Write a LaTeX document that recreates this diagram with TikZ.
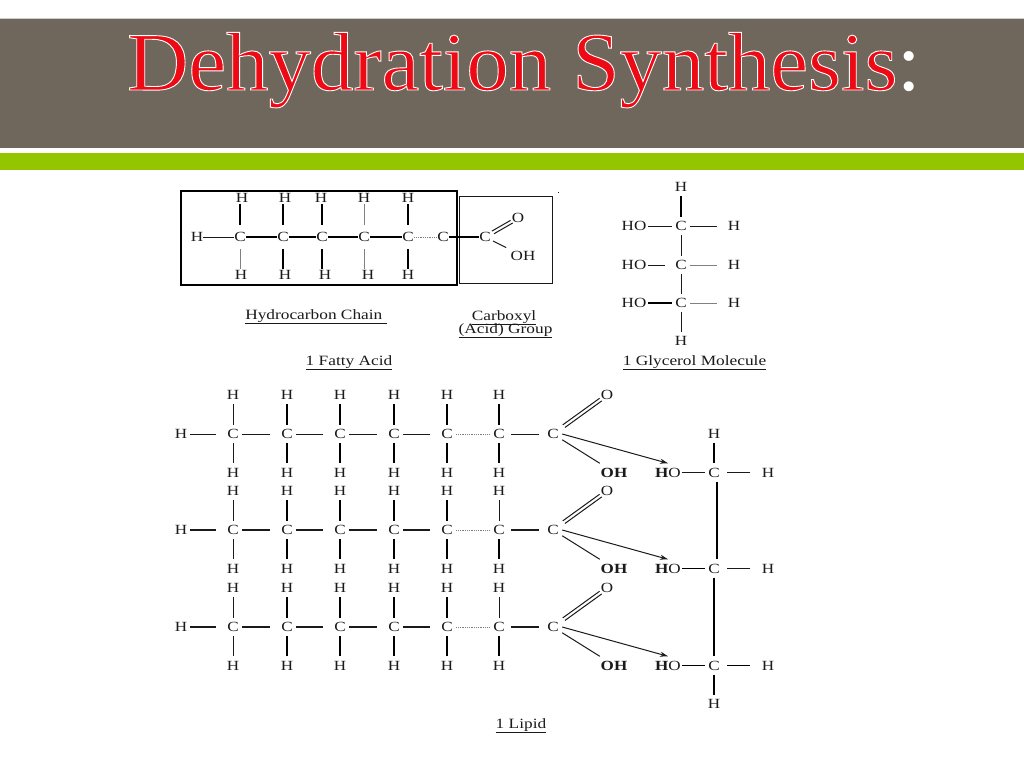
\documentclass[tikz,border=0pt]{standalone}
\usepackage{fontspec}
\setmainfont[FakeStretch=1.22]{Liberation Serif}
\newfontfamily\titlefont[FakeStretch=1.022]{Liberation Serif}
\usetikzlibrary{arrows.meta}
\definecolor{band}{HTML}{6F675C}
\definecolor{barg}{HTML}{94C600}
\definecolor{ink}{HTML}{1A1A1A}
\definecolor{titlered}{HTML}{EE0A14}
\newcommand{\outlined}[1]{\special{pdf:code q 2 Tr 1 1 1 RG 0.9 w}#1\special{pdf:code Q}}
\tikzset{
  x=1pt,y=-1pt,
  atom/.style={text=ink,font=\fontsize{14}{14}\selectfont,inner sep=0pt,minimum width=18pt,minimum height=18pt},
  wideatom/.style={atom,minimum width=28pt},
  boldatom/.style={wideatom,font=\fontsize{14}{14}\selectfont\bfseries},
  fcarbon/.style={atom,minimum width=12pt,minimum height=24pt},
  fhydro/.style={atom,minimum width=12pt,minimum height=12pt},
  smalllab/.style={text=ink,font=\fontsize{14.2}{14.2}\selectfont,inner sep=0pt,anchor=base},
  bond/.style={draw=ink,line width=1pt},
  hbond/.style={draw=black,line width=1.8pt},
  greybond/.style={draw=gray,line width=1pt},
  faint/.style={draw=gray,line width=0.8pt,densely dotted},
  outline/.style={draw=black,line width=2.2pt},
  thinbox/.style={draw=ink,line width=1pt},
  react/.style={draw=ink,line width=1pt,-{Stealth[length=8pt,width=5pt]}},
  doubleup/.style={transform canvas={xshift=-1.1pt,yshift=1.3pt}},
  doubledown/.style={transform canvas={xshift=1.1pt,yshift=-1.3pt}},
}
\begin{document}
\begin{tikzpicture}
\useasboundingbox (0,0) rectangle (1024,768);
\fill[white] (0,0) rectangle (1024,768);
\fill[gray!40] (0,18) rectangle (1024,19);
\fill[band] (0,19) rectangle (1024,148);
\fill[barg] (0,153) rectangle (1024,170);
\node[anchor=base west,inner sep=0pt,text=titlered,font=\titlefont\fontsize{83}{83}\selectfont] (title) at (127,90) {\outlined{Dehydration Synthesis}\textcolor{white}{:}};

% ---------- fatty acid
\node[outline,inner sep=0pt,minimum width=276pt,minimum height=94pt] (hcbox) at (319,238) {};
\node[thinbox,inner sep=0pt,minimum width=93.5pt,minimum height=87pt] (cbbox) at (506,239.5) {};
\foreach \n/\x/\tx/\bx in {1/240/242/241,2/283/285/285,3/322/321/325,4/364/364/368,5/408/408/408}{
  \node[fcarbon] (fc\n) at (\x,237) {C};
  \node[fhydro] (ft\n) at (\tx,198) {H};
  \node[fhydro] (fb\n) at (\bx,275) {H};
}
\node[fcarbon] (fc6) at (443,237) {C};
\node[fcarbon] (fc7) at (485,237) {C};
\node[fhydro] (fl) at (197,237) {H};
\node[atom,minimum width=10pt,minimum height=14pt] (fo) at (518,218) {O};
\node[wideatom,minimum height=14pt] (foh) at (523,256) {OH};
\node[inner sep=0.5pt,fill=ink] (fdot) at (558,192) {};
\draw[bond] (fl) -- (fc1);
\foreach \a/\b in {fc1/fc2,fc2/fc3,fc3/fc4,fc4/fc5,fc6/fc7}{\draw[hbond,line width=1.5pt] (\a) -- (\b);}
\draw[faint] (fc5) -- (fc6);
\draw[hbond] (fc1.north) -- (fc1.north |- ft1.south);
\draw[greybond] (fc1.south) -- (fc1.south |- fb1.north);
\foreach \n in {2,3,5}{
  \draw[hbond] (fc\n.north) -- (fc\n.north |- ft\n.south);
  \draw[hbond] (fc\n.south) -- (fc\n.south |- fb\n.north);
}
\draw[greybond] (fc4.north) -- (fc4.north |- ft4.south);
\draw[greybond] (fc4.south) -- (fc4.south |- fb4.north);
\draw[bond,doubleup,shorten <=2pt] (fc7) -- (fo);
\draw[bond,doubledown,shorten <=2pt] (fc7) -- (fo);
\draw[bond,shorten <=2pt,shorten >=3pt] (fc7) -- (foh);
\node[smalllab] (lhc) at (316,319) {\underline{Hydrocarbon Chain\ }};
\node[smalllab] (lcb) at (504,320) {\underline{Carboxyl}};
\node[smalllab] (lag) at (505.5,333) {\underline{(Acid) Group}};
\node[smalllab] (lfa) at (349,365) {\underline{1 Fatty Acid}};

% ---------- glycerol
\node[atom] (gt) at (681,187) {H};
\node[atom] (gb) at (681,341) {H};
\foreach \n/\y/\hs in {1/226/bond,2/265/greybond,3/303/greybond}{
  \node[atom] (gc\n) at (681,\y) {C};
  \node[wideatom] (gho\n) at (634,\y) {HO};
  \node[atom] (gh\n) at (734,\y) {H};
  \draw[\hs,shorten >=8pt] (gc\n) -- (gh\n);
}
\draw[bond] (gho1) -- (gc1);
\draw[bond,shorten >=7pt] (gho2) -- (gc2);
\draw[hbond] (gho3) -- (gc3);
\draw[hbond] (gt) -- (gc1);
\draw[bond] (gc1) -- (gc2);
\draw[bond] (gc2) -- (gc3);
\draw[bond] (gc3) -- (gb);
\node[smalllab] (lgm) at (694.5,365) {\underline{1 Glycerol Molecule}};

% ---------- lipid
\foreach \r/\y/\wid/\topsix/\kl/\kr in {1/434/1pt/hbond/bond/bond,2/530/1.5pt/bond/hbond/bond,3/627/1.5pt/bond/hbond/hbond}{
  \pgfmathsetmacro{\yt}{\y-39}
  \pgfmathsetmacro{\yb}{\y+38.5}
  \node[atom] (l\r) at (181,\y) {H};
  \foreach \n/\x in {1/233,2/287,3/340,4/394,5/447,6/499,7/553}{
    \node[atom] (c\r\n) at (\x,\y) {C};
  }
  \foreach \n/\x in {1/233,2/287,3/340,4/394,5/447,6/499}{
    \node[atom] (t\r\n) at (\x,\yt) {H};
    \node[atom] (b\r\n) at (\x,\yb) {H};
  }
  \node[atom,minimum width=12pt] (o\r) at (607,\yt) {O};
  \node[boldatom] (oh\r) at (614,\yb) {OH};
  \node[boldatom,font=\fontsize{14}{14}\selectfont] (ho\r) at (668,\yb) {\textbf{H}O};
  \node[atom] (k\r) at (714,\yb) {C};
  \node[atom] (m\r) at (768,\yb) {H};
  \draw[bond,line width=\wid,shorten >=8pt] (l\r) -- (c\r1);
  \foreach \a/\b in {1/2,2/3,3/4,4/5}{\draw[bond,line width=\wid,shorten >=8pt] (c\r\a) -- (c\r\b);}
  \draw[bond,line width=\wid,shorten >=5pt,shorten <=3pt] (c\r6) -- (c\r7);
  \draw[faint] (c\r5) -- (c\r6);
  \draw[bond] (t\r1) -- (c\r1);
  \draw[bond] (c\r1) -- (b\r1);
  \foreach \n in {2,...,5}{
    \draw[hbond] (t\r\n) -- (c\r\n);
    \draw[hbond] (c\r\n) -- (b\r\n);
  }
  \draw[\topsix] (t\r6) -- (c\r6);
  \draw[hbond] (c\r6) -- (b\r6);
  \draw[bond,doubleup,shorten <=2pt] (c\r7) -- (o\r);
  \draw[bond,doubledown,shorten <=2pt] (c\r7) -- (o\r);
  \draw[bond] (c\r7) -- (oh\r.north west);
  \draw[react] (c\r7.east) -- (ho\r.north);
  \draw[\kl] (ho\r) -- (k\r);
  \draw[\kr,shorten <=4pt,shorten >=9pt] (k\r) -- (m\r);
}
\node[atom] (kt) at (714,434) {H};
\node[atom] (kb) at (714,704) {H};
\draw[hbond] (kt) -- (k1);
\draw[hbond,line width=2pt] ([xshift=2.5pt]k1.south) -- ([xshift=2.5pt]k2.north);
\draw[hbond] (k2) -- (k3);
\draw[hbond] (k3) -- (kb);
\node[smalllab] (ll) at (521,728) {\underline{1 Lipid}};
\end{tikzpicture}
\end{document}
